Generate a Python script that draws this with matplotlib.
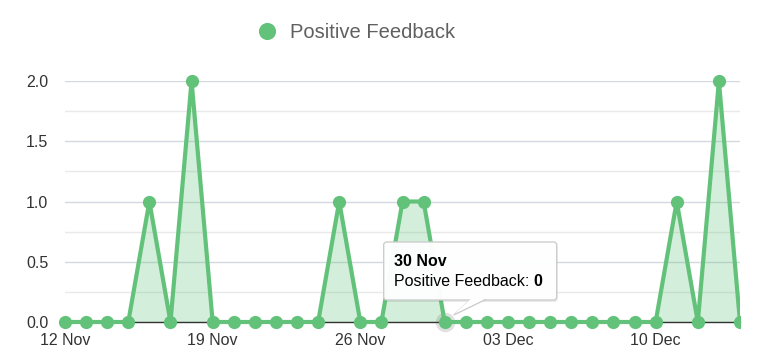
import matplotlib
matplotlib.use("Agg")
import matplotlib.pyplot as plt
import matplotlib.transforms as mtransforms
from matplotlib.patches import Rectangle, FancyBboxPatch, Polygon
from matplotlib.ticker import MultipleLocator
import numpy as np

plt.rcParams['font.family'] = ['Liberation Sans', 'DejaVu Sans']

# ---- data ----
dates = ["12 Nov", "13 Nov", "14 Nov", "15 Nov", "16 Nov", "17 Nov", "18 Nov",
         "19 Nov", "20 Nov", "21 Nov", "22 Nov", "23 Nov", "24 Nov", "25 Nov",
         "26 Nov", "27 Nov", "28 Nov", "29 Nov", "30 Nov", "01 Dec", "02 Dec",
         "03 Dec", "04 Dec", "05 Dec", "06 Dec", "07 Dec", "08 Dec", "09 Dec",
         "10 Dec", "11 Dec", "12 Dec", "13 Dec", "14 Dec"]
positive_feedback = [0, 0, 0, 0, 1, 0, 2,
                     0, 0, 0, 0, 0, 0, 1,
                     0, 0, 1, 1, 0, 0, 0,
                     0, 0, 0, 0, 0, 0, 0,
                     0, 1, 0, 2, 0]
tick_labels = ["12 Nov", "19 Nov", "26 Nov", "03 Dec", "10 Dec"]
series_name = "Positive Feedback"
hover_date = "30 Nov"

GREEN = "#63c27a"

fig = plt.figure(figsize=(7.63, 3.55), dpi=100)
ax = fig.add_axes([65/763, 33/355, 675/763, 241/355])

x = np.arange(len(dates))
y = np.array(positive_feedback)

clip = Rectangle((-0.05, -0.15), 1.05, 1.3, transform=ax.transAxes,
                 facecolor='none', edgecolor='none')
ax.add_patch(clip)

fill = ax.fill_between(x, y, 0, color=GREEN, alpha=0.28, linewidth=0, zorder=2)
fill.set_clip_path(clip)
line, = ax.plot(x, y, color=GREEN, linewidth=3.0, marker='o', markersize=9.5,
                markeredgewidth=0, zorder=3, label=series_name)
line.set_clip_path(clip)

# hovered point halo (shadow)
hi = dates.index(hover_date)
halo, = ax.plot([x[hi]], [y[hi]], marker='o', markersize=14, color='#555555',
                alpha=0.18, markeredgewidth=0, zorder=2.9, linestyle='none')
halo.set_clip_on(False)

ax.set_xlim(0, len(dates) - 1)
ax.set_ylim(0, 2.0)

ax.set_xticks([dates.index(t) for t in tick_labels])
ax.set_xticklabels(tick_labels)
ax.yaxis.set_major_locator(MultipleLocator(0.5))
ax.yaxis.set_minor_locator(MultipleLocator(0.25))
ax.set_yticklabels([f"{v:.1f}" for v in ax.get_yticks()])

ax.tick_params(axis='both', which='both', length=0, labelsize=11.5, labelcolor='#333333')
ax.tick_params(axis='y', pad=12)
ax.tick_params(axis='x', pad=8)

ax.grid(True, which='major', axis='y', color='#d3d9e1', linewidth=1.0, zorder=0)
ax.grid(True, which='minor', axis='y', color='#e9e9e9', linewidth=1.0, zorder=0)
ax.set_axisbelow(True)
for s in ['top', 'right', 'left']:
    ax.spines[s].set_visible(False)
ax.spines['bottom'].set_color('#333333')
ax.spines['bottom'].set_linewidth(1.0)
ax.spines['bottom'].set_zorder(2.5)

# legend
leg = fig.legend(handles=[line], labels=[series_name], loc='center',
                 bbox_to_anchor=(361/763, 1 - 33/355), frameon=False,
                 fontsize=14.5, handlelength=0, handletextpad=1.1,
                 markerscale=1.3, labelcolor='#606060')
for h in leg.legend_handles:
    h.set_linestyle('none')

# tooltip anchored to hovered point (pixel offsets)
tr = mtransforms.ScaledTranslation(x[hi], y[hi], ax.transData)
box = FancyBboxPatch((-61, 22), 173, 58, boxstyle="round,pad=0,rounding_size=3",
                     transform=tr, facecolor='white', edgecolor='#cccccc',
                     linewidth=1.0, zorder=10, alpha=0.97)
shadow = FancyBboxPatch((-60, 20), 173, 58, boxstyle="round,pad=0,rounding_size=3",
                        transform=tr, facecolor='#000000', edgecolor='none',
                        alpha=0.08, zorder=9.5)
pointer = Polygon([(26, 22.5), (9, 7), (41, 22.5)], closed=False, transform=tr,
                  facecolor='white', edgecolor='#cccccc', linewidth=1.0, zorder=10.5)
cover = Polygon([(26.5, 23.5), (9.5, 8), (40.5, 23.5)], closed=True, transform=tr,
                facecolor='white', edgecolor='none', zorder=10.6)
for p in (shadow, box, pointer, cover):
    p.set_clip_on(False)
    fig.add_artist(p)

t1 = fig.text(-51, 61, hover_date, transform=tr, fontsize=11.5, fontweight='bold',
              color='#000000', va='center', ha='left', zorder=11)
t2 = fig.text(-51, 40, f"{series_name}: ", transform=tr, fontsize=11.5,
              color='#000000', va='center', ha='left', zorder=11)
fig.canvas.draw()
bb = t2.get_window_extent()
px0 = ax.transData.transform((x[hi], y[hi]))[0]
fig.text(bb.x1 - px0, 40, f"{y[hi]}", transform=tr, fontsize=11.5, fontweight='bold',
         color='#000000', va='center', ha='left', zorder=11)

fig.savefig("out.png", dpi=100)
